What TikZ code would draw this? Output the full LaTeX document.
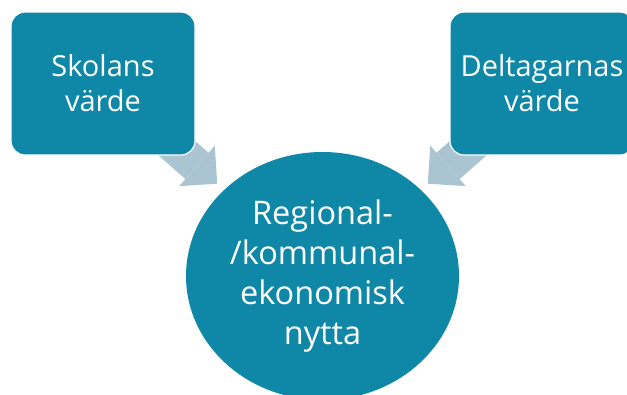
\documentclass[tikz,border=0pt]{standalone}
\usepackage{fontspec}
\setmainfont{Open Sans}
\usetikzlibrary{shapes.geometric,arrows.meta,backgrounds}
\definecolor{teal-blue}{RGB}{15,135,167}
\definecolor{arrow-grey}{RGB}{170,196,210}
\tikzset{
    value-box/.style = {draw=white, fill=teal-blue, line width=1.2pt, rectangle, rounded corners=14pt, minimum width=184pt, minimum height=143pt, inner sep=0pt, text=white, align=center, font=\fontsize{29}{35}\selectfont},
    benefit-ellipse/.style = {fill=teal-blue, ellipse, minimum width=273pt, minimum height=248pt, inner sep=0pt, text=white, align=center, font=\fontsize{32.5}{40}\selectfont},
    flow-arrow/.style = {draw=arrow-grey, line width=35pt, -{Triangle[length=27pt, width=54pt, line width=0pt]}, shorten >=140pt},
}

\begin{document}
\begin{tikzpicture}[x=1pt, y=-1pt]
\useasboundingbox (0,0) rectangle (627,394);
\node [value-box] (skolans) at (103,83.5) {Skolans\\värde};
\node [value-box] (deltagarnas) at (542,83.5) {Deltagarnas\\värde};
\node [benefit-ellipse] (nytta) at (322.5,276) {Regional-\\/kommunal-\\ekonomisk\\nytta};
\begin{scope}[on background layer]
\draw [flow-arrow] (skolans.center) -- (nytta.center);
\draw [flow-arrow] (deltagarnas.center) -- (nytta.center);
\end{scope}
\end{tikzpicture}
\end{document}
